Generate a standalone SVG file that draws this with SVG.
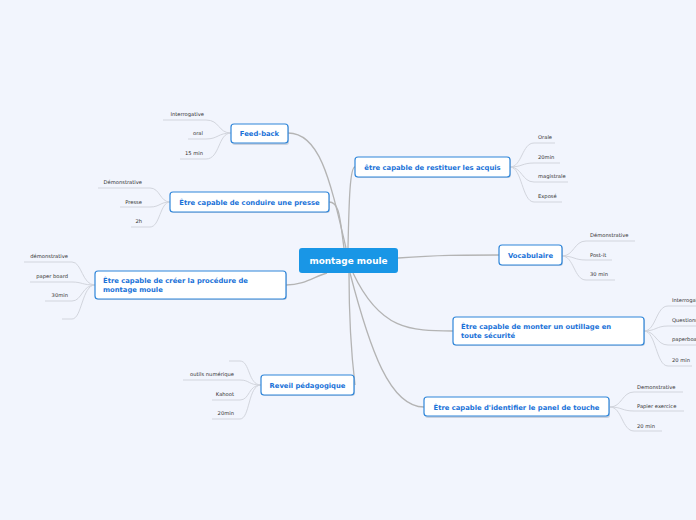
<svg xmlns="http://www.w3.org/2000/svg" width="696" height="520" viewBox="0 0 696 520">
<style>
.bg{fill:#f2f5fd}
.node rect.box{fill:#ffffff;stroke:#2f86da;stroke-width:1.2}
.node rect.sh{fill:#9aa6b8;opacity:0.45}
.nt{font-family:"DejaVu Sans",Verdana,sans-serif;font-weight:bold;font-size:6.8px;fill:#1a72d8}
.ct{font-family:"DejaVu Sans",Verdana,sans-serif;font-weight:bold;font-size:8.9px;fill:#ffffff}
.lt{font-family:"DejaVu Sans",Verdana,sans-serif;font-size:5.2px;fill:#333333}
.main path{fill:none;stroke:#b4b4b4;stroke-width:1.3}
.leaf path{fill:none;stroke:#d2d5dd;stroke-width:1}
</style>
<rect class="bg" x="0" y="0" width="696" height="520"/>

<g id="connectors">
 <g class="main">
  <path d="M288 133 C320 133 330 180 346 248"/>
  <path d="M329 202 C340 202 340 220 344 248"/>
  <path d="M355 167 C350 167 349 200 348 248"/>
  <path d="M286 285 C305 285 315 276 327 273"/>
  <path d="M349 273 C349 320 352 360 355 385"/>
  <path d="M353 273 C380 330 410 331 453 331"/>
  <path d="M350 273 C370 350 390 407 424 407"/>
  <path d="M398 258 C440 255 460 255 499 255"/>
 </g>
 <g class="leaf">
  <path d="M231 133 C218 133 220 120 206 120 L163 120"/>
  <path d="M231 133 C218 133 218 139 206 139 L188 139"/>
  <path d="M231 133 C218 133 220 159 206 159 L180 159"/>

  <path d="M170 202 C160 202 160 188 150 188 L98 188"/>
  <path d="M170 202 C160 202 160 207 150 207 L120 207"/>
  <path d="M170 202 C160 202 160 227 150 227 L131 227"/>

  <path d="M95 285 C82 285 82 262 72 262 L24 262"/>
  <path d="M95 285 C82 285 82 282 72 282 L30 282"/>
  <path d="M95 285 C82 285 82 301 72 301 L45 301"/>
  <path d="M95 285 C82 285 82 319 72 319 L62 319"/>

  <path d="M261 385 C248 385 250 361 240 361 L229 361"/>
  <path d="M261 385 C248 385 250 380 240 380 L183 380"/>
  <path d="M261 385 C248 385 250 400 240 400 L212 400"/>
  <path d="M261 385 C248 385 250 419 240 419 L212 419"/>

  <path d="M510 167 C522 167 522 143 534 143 L555 143"/>
  <path d="M510 167 C522 167 522 163 534 163 L560 163"/>
  <path d="M510 167 C522 167 522 182 534 182 L568 182"/>
  <path d="M510 167 C522 167 522 202 534 202 L562 202"/>

  <path d="M562 256 C574 256 574 241 586 241 L635 241"/>
  <path d="M562 256 C574 256 574 260 586 260 L612 260"/>
  <path d="M562 256 C574 256 574 280 586 280 L615 280"/>

  <path d="M644 331 C656 331 656 306 668 306 L696 306"/>
  <path d="M644 331 C656 331 656 326 668 326 L696 326"/>
  <path d="M644 331 C656 331 656 345 668 345 L696 345"/>
  <path d="M644 331 C656 331 656 366 668 366 L692 366"/>

  <path d="M610 407 C622 407 622 392 634 392 L683 392"/>
  <path d="M610 407 C622 407 622 411 634 411 L684 411"/>
  <path d="M610 407 C622 407 622 431 634 431 L662 431"/>
 </g>
</g>

<g id="center">
 <rect x="299" y="248" width="99" height="25" rx="3" fill="#1996e6"/>
 <text class="ct" x="348.5" y="264" text-anchor="middle">montage moule</text>
</g>

<g id="feedback" class="node">
 <rect class="sh" x="232" y="125" width="57" height="20" rx="3"/>
 <rect class="box" x="231" y="124" width="57" height="19" rx="3"/>
 <text class="nt" x="259.5" y="136" text-anchor="middle">Feed-back</text>
 <text class="lt" x="204" y="116" text-anchor="end">Interrogative</text>
 <text class="lt" x="203" y="135" text-anchor="end">oral</text>
 <text class="lt" x="203" y="155" text-anchor="end">15 min</text>
</g>

<g id="presse" class="node">
 <rect class="sh" x="171" y="193" width="159" height="20" rx="3"/>
 <rect class="box" x="170" y="192" width="159" height="20" rx="3"/>
 <text class="nt" x="249.5" y="205" text-anchor="middle">Être capable de conduire une presse</text>
 <text class="lt" x="142" y="184" text-anchor="end">Démonstrative</text>
 <text class="lt" x="142" y="204" text-anchor="end">Presse</text>
 <text class="lt" x="142" y="223" text-anchor="end">2h</text>
</g>

<g id="procedure" class="node">
 <rect class="sh" x="96" y="272" width="191" height="28" rx="3"/>
 <rect class="box" x="95" y="271" width="191" height="28" rx="3"/>
 <text class="nt" x="103" y="283">Être capable de créer la procédure de</text>
 <text class="nt" x="103" y="292">montage moule</text>
 <text class="lt" x="68" y="258" text-anchor="end">démonstrative</text>
 <text class="lt" x="68" y="278" text-anchor="end">paper board</text>
 <text class="lt" x="68" y="297" text-anchor="end">30min</text>
</g>

<g id="reveil" class="node">
 <rect class="sh" x="262" y="376" width="93" height="20" rx="3"/>
 <rect class="box" x="261" y="375" width="93" height="20" rx="3"/>
 <text class="nt" x="307.5" y="388" text-anchor="middle">Reveil pédagogique</text>
 <text class="lt" x="234" y="376" text-anchor="end">outils numérique</text>
 <text class="lt" x="234" y="396" text-anchor="end">Kahoot</text>
 <text class="lt" x="234" y="415" text-anchor="end">20min</text>
</g>

<g id="restituer" class="node">
 <rect class="sh" x="356" y="158" width="155" height="20" rx="3"/>
 <rect class="box" x="355" y="157" width="155" height="20" rx="3"/>
 <text class="nt" x="432.5" y="169.5" text-anchor="middle">être capable de restituer les acquis</text>
 <text class="lt" x="538" y="139">Orale</text>
 <text class="lt" x="538" y="159">20min</text>
 <text class="lt" x="538" y="178">magistrale</text>
 <text class="lt" x="538" y="198">Exposé</text>
</g>

<g id="vocabulaire" class="node">
 <rect class="sh" x="500" y="246" width="63" height="20" rx="3"/>
 <rect class="box" x="499" y="245" width="63" height="20" rx="3"/>
 <text class="nt" x="530.5" y="258" text-anchor="middle">Vocabulaire</text>
 <text class="lt" x="590" y="237">Démonstrative</text>
 <text class="lt" x="590" y="257">Post-it</text>
 <text class="lt" x="590" y="276">30 min</text>
</g>

<g id="outillage" class="node">
 <rect class="sh" x="454" y="318" width="191" height="28" rx="3"/>
 <rect class="box" x="453" y="317" width="191" height="28" rx="3"/>
 <text class="nt" x="461" y="329">Être capable de monter un outillage en</text>
 <text class="nt" x="461" y="338">toute sécurité</text>
 <text class="lt" x="672" y="302">Interrogative</text>
 <text class="lt" x="672" y="322">Questionnaire</text>
 <text class="lt" x="672" y="341">paperboard</text>
 <text class="lt" x="672" y="362">20 min</text>
</g>

<g id="panel" class="node">
 <rect class="sh" x="425" y="398" width="185" height="20" rx="3"/>
 <rect class="box" x="424" y="397" width="185" height="19" rx="3"/>
 <text class="nt" x="516.5" y="409.5" text-anchor="middle">Être capable d'identifier le panel de touche</text>
 <text class="lt" x="637" y="389">Demonstrative</text>
 <text class="lt" x="637" y="408">Papier exercice</text>
 <text class="lt" x="637" y="428">20 min</text>
</g>
</svg>
